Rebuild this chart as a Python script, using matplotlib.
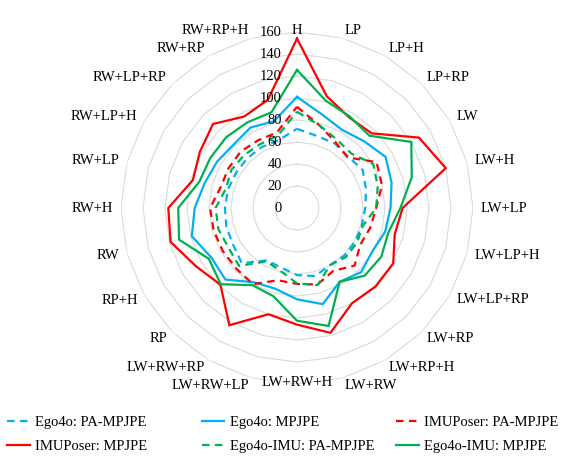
import numpy as np
import matplotlib
matplotlib.use("Agg")
import matplotlib.pyplot as plt
from matplotlib.lines import Line2D
from matplotlib.transforms import offset_copy

categories = ["H", "LP", "LP+H", "LP+RP", "LW", "LW+H", "LW+LP", "LW+LP+H",
              "LW+LP+RP", "LW+RP", "LW+RP+H", "LW+RW", "LW+RW+H", "LW+RW+LP",
              "LW+RW+RP", "RP", "RP+H", "RW", "RW+H", "RW+LP", "RW+LP+H",
              "RW+LP+RP", "RW+RP", "RW+RP+H"]

ego4o_pa = [72, 68, 68, 66, 69, 65, 62, 61, 61, 61, 60, 64,
            61, 56, 55, 71, 67, 66.5, 65.5, 65, 64, 64, 64, 64]
ego4o_mpjpe = [101, 88, 82, 86, 93, 89, 85, 83, 79, 82.5, 77.5, 90.5,
               83, 76, 78, 92, 90, 99, 93, 87, 84, 81.5, 84.5, 81.5]
imuposer_pa = [92, 78, 69.5, 65, 83.5, 80, 72, 69, 66.5, 74, 66, 72,
               69, 68, 80, 78, 78, 78.5, 79, 72, 72, 72.5, 71, 71]
imuposer_mpjpe = [154, 105, 95, 96, 128, 140, 96, 92, 101, 101, 100, 117.5,
                  106, 100, 123, 98.5, 106, 119, 117, 98, 102, 108, 96, 102]
ego4oimu_pa = [87.5, 78, 72, 70, 80, 76, 72, 62, 63, 63, 60, 72.5,
               68.5, 59, 56, 74.5, 72, 74, 74, 67, 69, 68, 67, 68]
ego4oimu_mpjpe = [125.5, 101, 96, 93, 120, 108, 94, 86, 88.5, 87, 77.5, 111,
                  102.5, 83, 81, 98, 92.5, 111, 108, 92, 91, 91, 90, 90]

radial_ticks = [0, 20, 40, 60, 80, 100, 120, 140, 160]

series = [
    ("Ego4o: PA-MPJPE", ego4o_pa, "#00B0F0", "dashed"),
    ("Ego4o: MPJPE", ego4o_mpjpe, "#00B0F0", "solid"),
    ("IMUPoser: PA-MPJPE", imuposer_pa, "#FF0000", "dashed"),
    ("IMUPoser: MPJPE", imuposer_mpjpe, "#FF0000", "solid"),
    ("Ego4o-IMU: PA-MPJPE", ego4oimu_pa, "#00B050", "dashed"),
    ("Ego4o-IMU: MPJPE", ego4oimu_mpjpe, "#00B050", "solid"),
]

plt.rcParams['font.family'] = ['Liberation Serif', 'DejaVu Serif']
FS = 10.5
W, H = 575, 457
fig = plt.figure(figsize=(W / 100, H / 100), dpi=100)

cx, cy, R = 297, 208, 176
ax = fig.add_axes([(cx - R) / W, 1 - (cy + R) / H, 2 * R / W, 2 * R / H],
                  projection='polar')
ax.set_theta_zero_location('N')
ax.set_theta_direction(-1)
ax.set_ylim(0, 160)
ax.grid(False)
ax.spines['polar'].set_visible(False)
ax.set_xticks([])
ax.set_yticks([])
ax.patch.set_alpha(0)

n = len(categories)
angles = np.arange(n) * 2 * np.pi / n
closed = np.concatenate([angles, angles[:1]])

# polygonal gridlines (Excel-style)
for v in radial_ticks[1:]:
    ax.plot(closed, [v] * (n + 1), color='#d9d9d9', lw=0.8, zorder=1)

dash = (0, (3.4, 2.4))
for name, vals, col, ls in series:
    ax.plot(closed, list(vals) + [vals[0]], color=col, lw=1.6,
            linestyle=dash if ls == "dashed" else '-', zorder=3,
            solid_joinstyle='miter')

# radial labels
tr = offset_copy(ax.transData, fig=fig, x=-15, y=0, units='dots')
for v in radial_ticks:
    ax.text(0, v, str(v), transform=tr, ha='right', va='center',
            fontsize=FS, color='black', zorder=4)

# category labels
r_lab = 184 / R * 160
for a, lab in zip(angles, categories):
    deg = np.degrees(a) % 360
    if np.isclose(deg, 0):
        ax.text(a, 177 / R * 160, lab, ha='center', va='center', fontsize=FS)
    elif np.isclose(deg, 180):
        ax.text(a, 175 / R * 160, lab, ha='center', va='center', fontsize=FS)
    elif deg < 180:
        ax.text(a, r_lab, lab, ha='left', va='center', fontsize=FS)
    else:
        ax.text(a, r_lab, lab, ha='right', va='center', fontsize=FS)

# legend: three evenly spaced columns
col_x = [7, 201.5, 396]
for c in range(3):
    hs, ls_ = [], []
    for rrow in range(2):
        name, vals, col, ls = series[rrow * 3 + c]
        hs.append(Line2D([], [], color=col, lw=1.6,
                         linestyle=dash if ls == "dashed" else '-'))
        ls_.append(name)
    fig.legend(hs, ls_, loc='center left',
               bbox_to_anchor=(col_x[c] / W, 1 - 434.5 / H),
               frameon=False, fontsize=FS, handlelength=1.55,
               handletextpad=0.38, labelspacing=0.71, borderpad=0,
               borderaxespad=0)

fig.savefig("out.png", dpi=100)
